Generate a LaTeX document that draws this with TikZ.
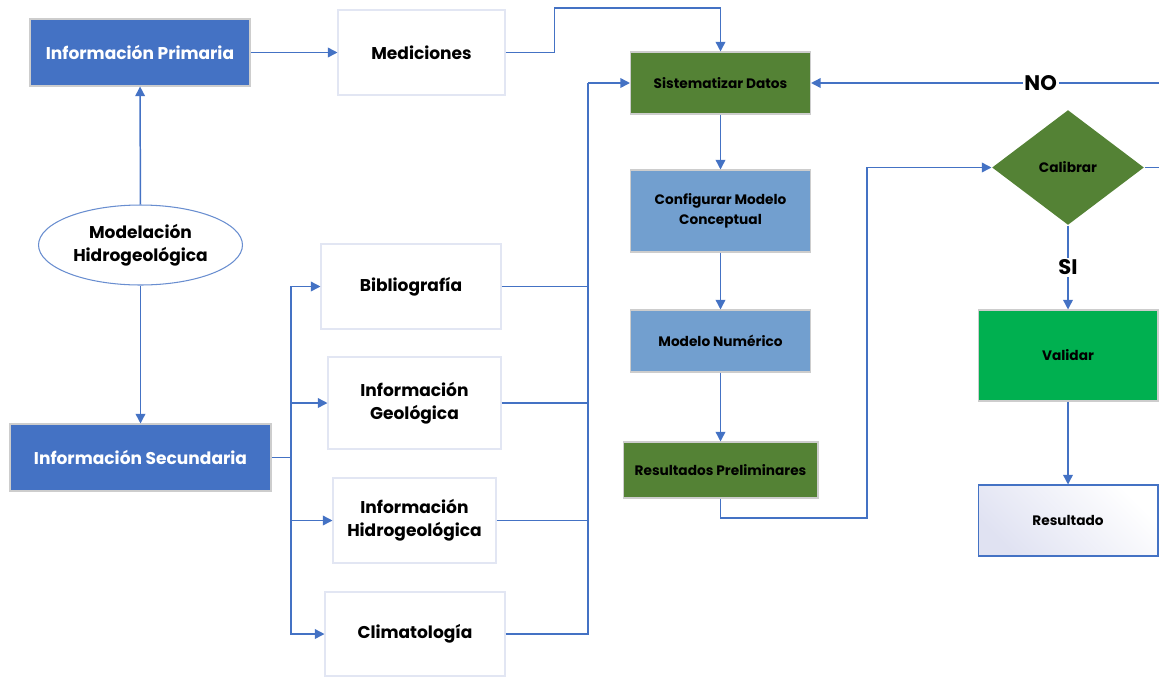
\documentclass[tikz,border=0pt]{standalone}
\usepackage{fontspec}
\setmainfont{Poppins}
\usepackage{xcolor}
\usetikzlibrary{positioning,shapes,calc,arrows.meta}

\definecolor{azul}{RGB}{68,114,196}
\definecolor{celeste}{RGB}{114,159,207}
\definecolor{verdeosc}{RGB}{84,130,53}
\definecolor{verde}{RGB}{0,176,80}
\definecolor{bordeg}{RGB}{205,205,205}
\definecolor{bordel}{RGB}{226,230,243}
\definecolor{lavanda}{RGB}{224,226,242}

\begin{document}
\begin{tikzpicture}[x=0.02cm, y=-0.02cm,
    font=\bfseries\fontsize{9.7}{13}\selectfont,
    caja/.style={rectangle, draw=bordel, fill=white, line width=0.6pt, inner sep=0pt, align=center},
    fuente/.style={rectangle, draw=bordeg, fill=azul, text=white, line width=0.6pt, inner sep=0pt},
    paso/.style={rectangle, draw=bordeg, line width=0.6pt, inner sep=0pt, align=center,
      font=\bfseries\fontsize{7.8}{11.3}\selectfont},
    flecha/.style={draw=azul, line width=0.85pt, -{Triangle[length=5.5pt,width=5.5pt]}},
    linea/.style={draw=azul, line width=0.85pt},
    etiq/.style={fill=white, inner sep=1pt, font=\bfseries\fontsize{12}{14}\selectfont}]

  % === Marco ===
  \useasboundingbox (0,0) rectangle (1159,677);

  % === Fuentes de informacion ===
  \node[fuente, minimum width=4.4cm, minimum height=1.34cm] (prim) at (140,52.5) {Información Primaria};
  \node[fuente, minimum width=5.22cm, minimum height=1.34cm] (sec) at (140.5,457.5) {Información Secundaria};
  \node[ellipse, draw=azul!80, fill=white, line width=0.6pt, inner sep=0pt, align=center,
    minimum width=4.08cm, minimum height=1.6cm] (model) at (140.5,245) {Modelación\\Hidrogeológica};

  \node[caja, minimum width=3.34cm, minimum height=1.7cm] (medic) at (421.5,52.5) {Mediciones};
  \node[caja, minimum width=3.6cm, minimum height=1.7cm] (biblio) at (411,286.5) {Bibliografía};
  \node[caja, minimum width=3.46cm, minimum height=1.84cm] (geol) at (414.5,403) {Información\\Geológica};
  \node[caja, minimum width=3.26cm, minimum height=1.7cm] (hidro) at (414.5,520.5) {Información\\Hidrogeológica};
  \node[caja, minimum width=3.6cm, minimum height=1.68cm] (clima) at (415,634) {Climatología};

  % === Proceso ===
  \node[paso, fill=verdeosc, minimum width=3.6cm, minimum height=1.24cm] (sist) at (720.5,83) {Sistematizar Datos};
  \node[paso, fill=celeste, minimum width=3.6cm, minimum height=1.64cm] (conf) at (720.5,211) {Configurar Modelo\\Conceptual};
  \node[paso, fill=celeste, minimum width=3.6cm, minimum height=1.24cm] (num) at (720.5,341) {Modelo Numérico};
  \node[paso, fill=verdeosc, minimum width=3.9cm, minimum height=1.12cm] (prel) at (720.5,470) {Resultados Preliminares};
  \node[paso, diamond, fill=verdeosc, draw=none, minimum width=3.04cm, minimum height=2.3cm] (calib) at (1068,167.5) {Calibrar};
  \node[paso, fill=verde, minimum width=3.6cm, minimum height=1.82cm] (valid) at (1068,355.5) {Validar};
  \node[paso, draw=azul, left color=lavanda, right color=white, shading angle=135,
    minimum width=3.6cm, minimum height=1.42cm] (result) at (1068,520.5) {Resultado};

  % === Puntos de paso ===
  \coordinate (busL) at (291,457.5);
  \coordinate (busR) at (588,83);
  \coordinate (giro) at (867,518);
  \coordinate (salida) at (1159,167.5);
  \coordinate (regreso) at (1159,83);

  % === Conectores ===
  \draw[flecha] (model) -- (prim);
  \draw[flecha] (model) -- (sec);
  \draw[flecha] (prim) -- (medic);
  \draw[flecha] (medic.east) -| ++(49,-44.5) -| (sist.north);

  \draw[linea] (sec.east) -- (busL);
  \foreach \n in {biblio,geol,hidro,clima} {
    \draw[flecha] (busL) |- (\n.west);
    \draw[linea] (\n.east) -| (busR);
  }
  \draw[flecha] (busR) -- (sist.west);

  \draw[flecha] (sist) -- (conf);
  \draw[flecha] (conf) -- (num);
  \draw[flecha] (num) -- (prel);
  \draw[flecha] (prel.south) |- (giro) |- (calib.west);

  \draw[flecha] (calib.south) -- (valid.north) node[etiq, midway] {SI};
  \draw[flecha] (valid) -- (result);
  \draw[linea] (calib.east) -- (salida);
  \draw[flecha] (regreso) -- (sist.east) node[etiq, pos=0.34] {NO};

\end{tikzpicture}
\end{document}
